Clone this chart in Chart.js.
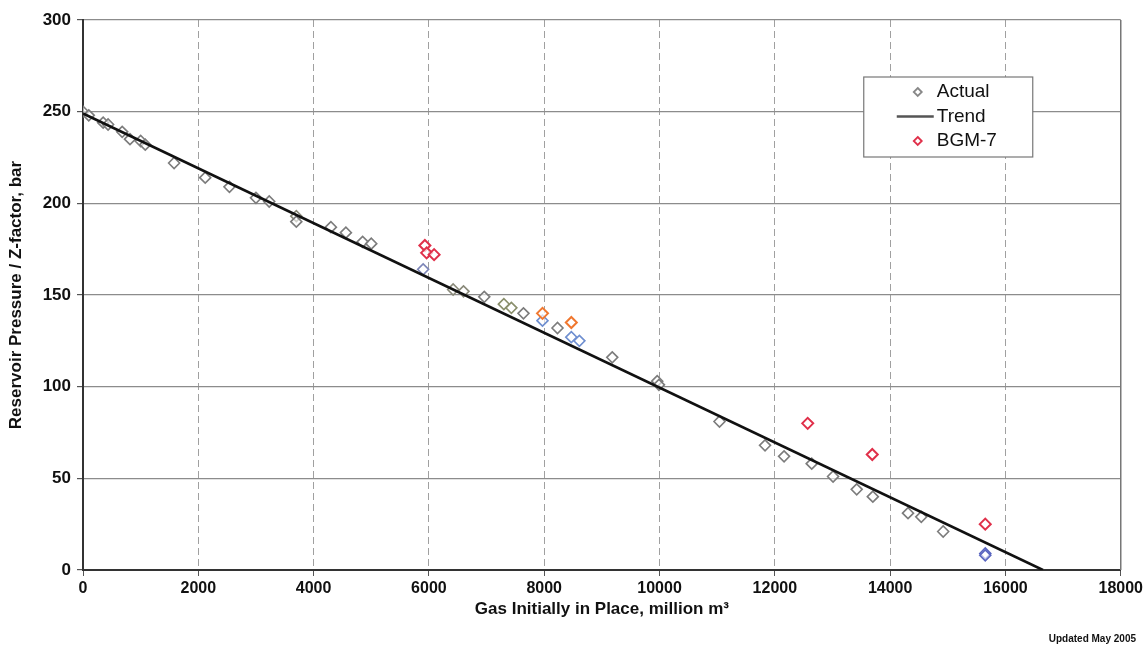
<!DOCTYPE html>
<html>
<head>
<meta charset="utf-8">
<script src="https://cdn.jsdelivr.net/npm/chart.js@4.4.0/dist/chart.umd.min.js"></script>
<style>
html,body{margin:0;padding:0;background:#fff;}
#wrap{width:1146px;height:648px;position:relative;}
</style>
</head>
<body>
<div id="wrap"><canvas id="c" width="1146" height="648"></canvas></div>
<script>
// ---- data ----
const actualX = [0, 100, 350, 435, 680, 815, 1000, 1080, 1580, 2120, 2540, 3000, 3230, 3700, 3700, 4300, 4560, 4850, 5000, 5900, 6420, 6600, 6960, 7300, 7430, 7640, 7970, 8230, 8470, 8610, 9180, 9960, 9990, 11040, 11830, 12160, 12640, 13010, 13420, 13700, 14310, 14540, 14920, 15650, 15650];
const actualY = [250, 248, 244, 243, 239, 235, 234, 232, 222, 214, 209, 203, 201, 193, 190, 187, 184, 179, 178, 164, 153, 152, 149, 145, 143, 140, 136, 132, 127, 125, 116, 103, 101, 81, 68, 62, 58, 51, 44, 40, 31, 29, 21, 9, 8];
const actualColors = ['#7c7c7c','#7c7c7c','#7c7c7c','#7c7c7c','#7c7c7c','#7c7c7c','#7c7c7c','#7c7c7c','#7c7c7c','#7c7c7c','#7c7c7c','#7c7c7c','#7c7c7c','#8a8a7a','#7c7c7c','#7c7c7c','#7c7c7c','#7c7c7c','#7c7c7c','#7d86b8','#8a8a7a','#8a8a7a','#7c7c7c','#8a8f6c','#8a8f6c','#7c7c7c','#6f8fd0','#7c7c7c','#6f8fd0','#6f8fd0','#7c7c7c','#7c7c7c','#7c7c7c','#7c7c7c','#7c7c7c','#7c7c7c','#7c7c7c','#7c7c7c','#7c7c7c','#7c7c7c','#7c7c7c','#7c7c7c','#7c7c7c','#5a66c0','#5a66c0'];
const bgmX = [5930, 5960, 6090, 7970, 8470, 12570, 13690, 15650];
const bgmY = [177, 173, 172, 140, 135, 80, 63, 25];
const bgmColors = ['#e0304a','#e0304a','#e0304a','#f07830','#f07830','#e0304a','#e0304a','#e0304a'];
const trendX = [0, 16650];
const trendY = [249, 0];
const xRange = [0, 18000, 2000];
const yRange = [0, 300, 50];
const labels = {actual:'Actual', trend:'Trend', bgm:'BGM-7'};
const xTitle = 'Gas Initially in Place, million m³';
const yTitle = 'Reservoir Pressure / Z-factor, bar';
const footNote = 'Updated May 2005';

const toPts = (xs, ys) => xs.map((x, i) => ({x: x, y: ys[i]}));
const FONT = '"Liberation Sans", Arial, sans-serif';

const frameAndLegendPlugin = {
  id: 'boxLegend',
  afterDatasetsDraw(chart) {
    const ctx = chart.ctx, ca = chart.chartArea;
    ctx.save();
    ctx.strokeStyle = '#777';
    ctx.lineWidth = 1.5;
    ctx.beginPath();
    ctx.moveTo(ca.right, ca.top); ctx.lineTo(ca.right, ca.bottom);
    ctx.stroke();
    ctx.restore();
  },
  afterDraw(chart) {
    const ctx = chart.ctx, ca = chart.chartArea;
    const bx = ca.right - 257, by = ca.top + 57, bw = 169, bh = 80;
    ctx.save();
    ctx.fillStyle = '#fff';
    ctx.fillRect(bx, by, bw, bh);
    ctx.strokeStyle = '#777';
    ctx.lineWidth = 1.2;
    ctx.strokeRect(bx, by, bw, bh);
    const ds = chart.data.datasets;
    ctx.font = '19px ' + FONT;
    ctx.textBaseline = 'middle';
    ds.forEach((d, i) => {
      const cy = by + 15 + i * 24.5;
      const mx = bx + 54;
      if (d.showLine) {
        ctx.strokeStyle = '#555';
        ctx.lineWidth = 2.5;
        ctx.beginPath(); ctx.moveTo(bx + 33, cy); ctx.lineTo(bx + 70, cy); ctx.stroke();
      } else {
        ctx.strokeStyle = i === 0 ? '#888' : '#e0304a';
        ctx.lineWidth = 1.8;
        const r = 4;
        ctx.beginPath();
        ctx.moveTo(mx, cy - r); ctx.lineTo(mx + r, cy); ctx.lineTo(mx, cy + r); ctx.lineTo(mx - r, cy); ctx.closePath();
        ctx.stroke();
      }
      ctx.fillStyle = '#111';
      ctx.fillText(d.label, bx + 73, cy);
    });
    ctx.font = 'bold 10px ' + FONT;
    ctx.textAlign = 'right';
    ctx.fillText(footNote, chart.width - 10, chart.height - 9);
    ctx.restore();
  }
};

new Chart(document.getElementById('c'), {
  type: 'scatter',
  data: {
    datasets: [
      {label: labels.actual, data: toPts(actualX, actualY), pointStyle: 'rectRot', pointRadius: 5.5, pointHoverRadius: 5.5,
       pointBorderWidth: 1.6, borderColor: actualColors, pointBorderColor: actualColors, pointBackgroundColor: 'rgba(255,255,255,0.6)', showLine: false, order: 2},
      {label: labels.trend, data: toPts(trendX, trendY), showLine: true, borderColor: '#111', borderWidth: 2.6, pointRadius: 0, pointHoverRadius: 0, order: 1},
      {label: labels.bgm, data: toPts(bgmX, bgmY), pointStyle: 'rectRot', pointRadius: 5.5, pointHoverRadius: 5.5,
       pointBorderWidth: 2, borderColor: bgmColors, pointBorderColor: bgmColors, pointBackgroundColor: 'rgba(255,255,255,0.7)', showLine: false, order: 0}
    ]
  },
  options: {
    responsive: false,
    animation: false,
    devicePixelRatio: 1,
    layout: {padding: {left: 4, right: 25, top: 20, bottom: 24}},
    plugins: {legend: {display: false}, tooltip: {enabled: false}},
    scales: {
      x: {
        type: 'linear', min: xRange[0], max: xRange[1],
        ticks: {stepSize: xRange[2], color: '#111', padding: 3, callback: v => String(v), font: {family: FONT, size: 16, weight: 'bold'}},
        grid: {color: '#a0a0a0', lineWidth: 1, tickLength: 6, tickColor: '#555', tickBorderDash: []},
        border: {display: true, color: '#333', width: 2, dash: [7, 4]},
        title: {display: true, text: xTitle, color: '#111', padding: {top: 3, bottom: 4}, font: {family: FONT, size: 17, weight: 'bold'}},
        afterFit(s) { s.height = 54; }
      },
      y: {
        type: 'linear', min: yRange[0], max: yRange[1],
        ticks: {stepSize: yRange[2], color: '#111', padding: 6, callback: v => String(v), font: {family: FONT, size: 17, weight: 'bold'}},
        grid: {color: '#8c8c8c', lineWidth: 1.2, tickLength: 6, tickColor: '#555'},
        border: {display: true, color: '#333', width: 2},
        title: {display: true, text: yTitle, color: '#111', padding: {top: 2, bottom: 2}, font: {family: FONT, size: 17, weight: 'bold'}},
        afterFit(s) { s.width = 79; }
      }
    }
  },
  plugins: [frameAndLegendPlugin]
});
</script>
</body>
</html>
